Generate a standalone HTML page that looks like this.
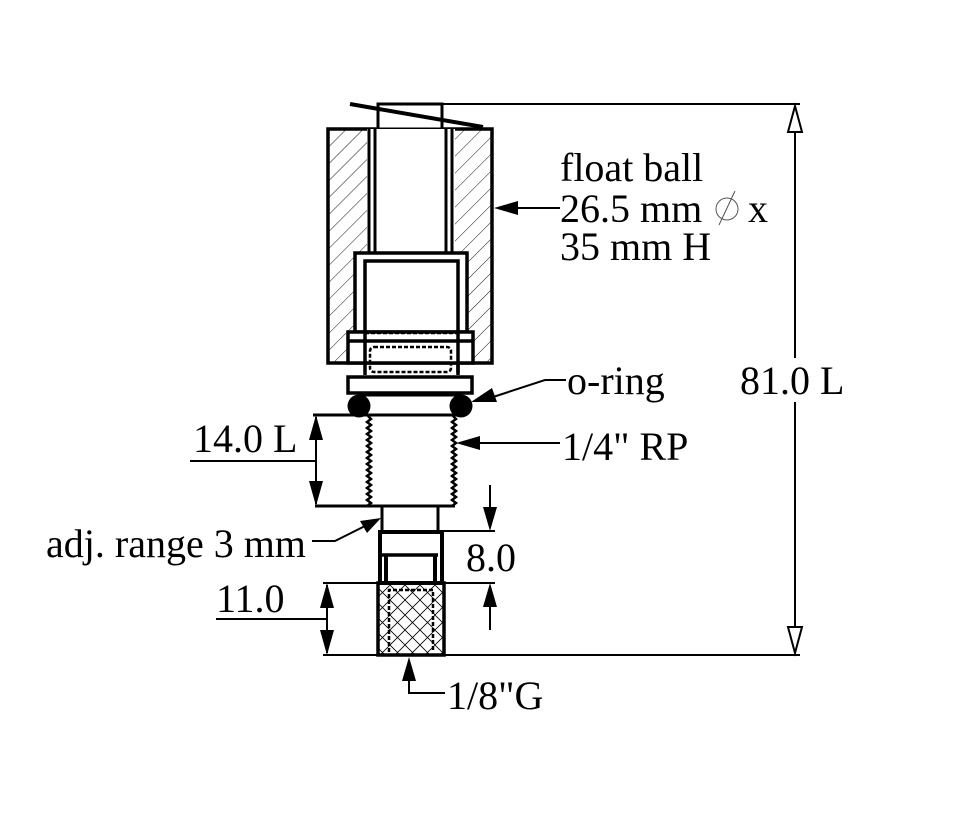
<!DOCTYPE html>
<html><head><meta charset="utf-8"><style>html,body{margin:0;padding:0;background:#fff}svg{display:block}</style></head>
<body>
<svg width="960" height="823" viewBox="0 0 960 823" xmlns="http://www.w3.org/2000/svg">
<defs>
<pattern id="h" patternUnits="userSpaceOnUse" width="12" height="12" patternTransform="rotate(45)">
<line x1="0" y1="0" x2="0" y2="12" stroke="#000" stroke-width="0.9"/>
</pattern>
<pattern id="x" patternUnits="userSpaceOnUse" width="15" height="15">
<path d="M0,0 L15,15 M15,0 L0,15" stroke="#000" stroke-width="0.8"/>
</pattern>
</defs>
<g fill="none" stroke="#000" stroke-width="2">
<path d="M328,129 H367 V253 H355 V332 H348 V363 H328 Z" fill="url(#h)" stroke="none"/>
<path d="M455,129 H492 V363 H473 V332 H467 V253 H455 Z" fill="url(#h)" stroke="none"/>
<rect x="328" y="129" width="164" height="234" stroke-width="3.5"/>
<rect x="378" y="104" width="64" height="25" fill="#fff" stroke-width="3"/>
<line x1="380" y1="129" x2="440" y2="129" stroke-width="2.5" stroke-dasharray="4,2" stroke="#000"/>
<line x1="350" y1="104" x2="483" y2="127" stroke-width="4"/>
<line x1="442" y1="104" x2="800" y2="104" stroke-width="2"/>
<rect x="367" y="129" width="88" height="124" fill="#fff" stroke="none"/>
<line x1="369" y1="129" x2="369" y2="253" stroke-width="3"/>
<line x1="375" y1="129" x2="375" y2="253" stroke-width="3"/>
<line x1="446" y1="129" x2="446" y2="253" stroke-width="3"/>
<line x1="452" y1="129" x2="452" y2="253" stroke-width="3"/>
<line x1="375" y1="254" x2="446" y2="254" stroke-width="2.5" stroke-dasharray="4,2"/>
<rect x="355" y="253" width="112" height="79" fill="#fff" stroke-width="3.5"/>
<path d="M365,363 V261 H458 V373" stroke-width="3.5"/>
<rect x="348" y="332" width="125" height="31" fill="#fff" stroke-width="3.5"/>
<line x1="348" y1="341" x2="473" y2="341" stroke-width="3.5"/>
<line x1="365" y1="333" x2="458" y2="333" stroke-width="2.5" stroke-dasharray="4,2"/>
<line x1="365" y1="332" x2="365" y2="375" stroke-width="3.5"/>
<line x1="458" y1="332" x2="458" y2="375" stroke-width="3.5"/>
<rect x="370" y="347" width="81" height="25" rx="4" stroke-width="2.5" stroke-dasharray="4,2"/>
<rect x="348" y="377" width="124" height="16" fill="#fff" stroke-width="3.5"/>
<rect x="360" y="395" width="100" height="20" fill="#fff" stroke-width="3"/>
<circle cx="359" cy="406" r="11.5" fill="#000" stroke="none"/>
<circle cx="461" cy="406" r="11.5" fill="#000" stroke="none"/>
<line x1="313" y1="415" x2="455" y2="415" stroke-width="3"/>
<path d="M368,416 l3,3 -4,3 4,3 -4,3 4,3 -4,3 4,3 -4,3 4,3 -4,3 4,3 -4,3 4,3 -4,3 4,3 -4,3 4,3 -4,3 4,3 -4,3 4,3 -4,3 4,3 -4,3 4,3 -4,3 4,3 -4,3 4,3 -4,3" stroke-width="2.5"/>
<path d="M453,416 l3,3 -4,3 4,3 -4,3 4,3 -4,3 4,3 -4,3 4,3 -4,3 4,3 -4,3 4,3 -4,3 4,3 -4,3 4,3 -4,3 4,3 -4,3 4,3 -4,3 4,3 -4,3 4,3 -4,3 4,3 -4,3 4,3 -4,3" stroke-width="2.5"/>
<line x1="315" y1="506" x2="455" y2="506" stroke-width="3"/>
<line x1="382" y1="506" x2="382" y2="532" stroke-width="3"/>
<line x1="438" y1="506" x2="438" y2="532" stroke-width="3"/>
<rect x="380" y="532" width="62" height="51" stroke-width="4"/>
<line x1="380" y1="555" x2="438" y2="555" stroke-width="3.5"/>
<line x1="386" y1="555" x2="386" y2="583" stroke-width="4"/>
<line x1="435" y1="555" x2="435" y2="583" stroke-width="4"/>
<rect x="378" y="583" width="66" height="72" fill="url(#x)" stroke-width="3.5"/>
<path d="M389,652 V590 H433 V652" stroke-width="2.5" stroke-dasharray="4,2"/>
<line x1="323" y1="583" x2="378" y2="583" stroke-width="2"/>
<line x1="323" y1="655" x2="378" y2="655" stroke-width="2"/>
<line x1="444" y1="655" x2="800" y2="655" stroke-width="2"/>
<line x1="444" y1="583" x2="495" y2="583" stroke-width="2"/>
<line x1="442" y1="531" x2="495" y2="531" stroke-width="2"/>
<line x1="795" y1="106" x2="795" y2="358"/>
<line x1="795" y1="402" x2="795" y2="653"/>
<path d="M795,106 L788,132 H802 Z" fill="#fff" stroke-width="2"/>
<path d="M795,653 L788,627 H802 Z" fill="#fff" stroke-width="2"/>
<line x1="316" y1="417" x2="316" y2="504"/>
<line x1="190" y1="461" x2="316" y2="461"/>
<line x1="327" y1="585" x2="327" y2="653"/>
<line x1="216" y1="619" x2="327" y2="619"/>
<line x1="490" y1="485" x2="490" y2="510"/>
<line x1="490" y1="605" x2="490" y2="630"/>
<line x1="510" y1="208" x2="560" y2="208"/>
<line x1="475" y1="443" x2="560" y2="443"/>
<path d="M566,380 L545,380 L490,398"/>
<path d="M312,541 L335,541 L365,526"/>
<path d="M409,680 V693 H445"/>
</g>
<g fill="#000" stroke="none">
<path d="M494,208 L518,201 L518,215 Z"/>
<path d="M456,443 L480,436 L480,450 Z"/>
<path d="M471,402 L492,388 L497,402 Z"/>
<path d="M381,518 L360,521 L367,533 Z"/>
<path d="M409,657 L402,681 L416,681 Z"/>
<path d="M316,415 L309,440 L323,440 Z"/>
<path d="M316,506 L309,481 L323,481 Z"/>
<path d="M327,583 L320,608 L334,608 Z"/>
<path d="M327,655 L320,630 L334,630 Z"/>
<path d="M490,531 L483,507 L497,507 Z"/>
<path d="M490,583 L483,607 L497,607 Z"/>
</g>
<g font-family="'Liberation Serif', serif" font-size="40" fill="#000">
<text x="560" y="181">float ball</text>
<text x="560" y="222">26.5 mm</text>
<text x="748" y="222">x</text>
<text x="560" y="260">35 mm H</text>
<text x="567" y="394">o-ring</text>
<text x="740" y="394">81.0 L</text>
<text x="562" y="460">1/4" RP</text>
<text x="193" y="452">14.0 L</text>
<text x="46" y="557">adj. range 3 mm</text>
<text x="466" y="571">8.0</text>
<text x="216" y="612">11.0</text>
<text x="447" y="709">1/8"G</text>
</g>
<g fill="none" stroke="#555" stroke-width="1">
<circle cx="727" cy="209" r="11"/>
<line x1="719" y1="225" x2="735" y2="191"/>
</g>
</svg>
</body></html>
